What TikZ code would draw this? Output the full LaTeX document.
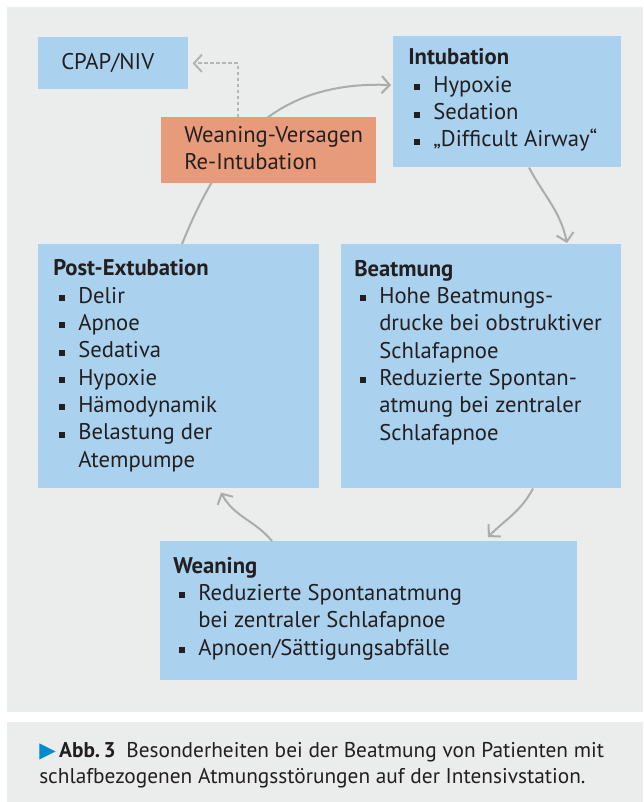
\documentclass[tikz,border=0pt]{standalone}
\usepackage{fontspec}
\setmainfont{PT Sans}
\newfontfamily\symfont{DejaVu Sans}
\usetikzlibrary{arrows.meta,calc}
\definecolor{panelgray}{RGB}{235,236,236}
\definecolor{boxblue}{RGB}{170,210,239}
\definecolor{boxorange}{RGB}{232,155,122}
\definecolor{arrowgray}{RGB}{172,172,172}
\definecolor{dotgray}{RGB}{180,180,180}
\definecolor{inkdark}{RGB}{35,31,32}
\definecolor{capblue}{RGB}{0,139,208}
% square bullet and the indent of a continued line
\newcommand{\itembul}{\hspace*{4pt}\makebox[14.75pt][l]{\rule[1.6pt]{4.5pt}{4.5pt}}}
\newcommand{\contline}{\hspace*{18.75pt}}
\begin{document}
\begin{tikzpicture}[x=0.75pt,y=0.75pt,
    bluebox/.style={fill=boxblue,anchor=north west,inner sep=0pt},
    orangebox/.style={fill=boxorange,anchor=north west,inner sep=0pt},
    txt/.style={anchor=base west,align=left,inner sep=0pt,text=inkdark,
      font=\fontsize{17}{20.5}\selectfont},
    cycarrow/.style={draw=arrowgray,line width=1.5pt,
      -{Straight Barb[length=6pt,width=13pt,line width=1.5pt]}},
    fallback/.style={cycarrow,draw=dotgray,dash pattern=on 2.5pt off 2pt}]
  \useasboundingbox (0,0) rectangle (643,-802);
  \fill[white] (0,0) rectangle (643,-802);
  \fill[panelgray] (7,-7) rectangle (643,-712);
  \fill[panelgray] (7,-722) rectangle (643,-802);

  % boxes
  \node[bluebox,minimum width=112.5pt,minimum height=39pt] (cpap) at (38,-37) {};
  \node[bluebox,minimum width=171pt,minimum height=98.25pt] (intub) at (393,-36) {};
  \node[bluebox,minimum width=210.75pt,minimum height=183pt] (post) at (38,-244) {};
  \node[bluebox,minimum width=210pt,minimum height=183pt] (beat) at (341,-244) {};
  \node[bluebox,minimum width=312.75pt,minimum height=104.25pt] (wean) at (160,-541) {};

  % cycle
  \draw[cycarrow] ($(post.north west)+(144,0)$) to[out=68,in=178,looseness=1.1]
    ($(intub.north west)+(-2,-49)$);
  \draw[cycarrow] ($(intub.south west)+(136,0)$) to[out=-62,in=102]
    ($(beat.north west)+(226,1)$);
  \draw[cycarrow] ($(beat.south west)+(192,0)$) to[out=-118,in=45]
    ($(wean.north west)+(328,4)$);
  \draw[cycarrow] ($(wean.north west)+(112,0)$) to[out=130,in=-62]
    ($(post.south west)+(183,-4)$);

  \node[orangebox,minimum width=161.25pt,minimum height=49.5pt] (fail) at (161,-117) {};
  \draw[fallback] ($(fail.north west)+(77,0)$) |- ($(cpap.east)+(4,0)$);

  % texts (placed by the baseline of their last line)
  \node[txt] (cpaptxt) at ($(cpap.north west)+(23,-33)$) {CPAP/NIV};
  \node[txt] (intubtxt) at ($(intub.north west)+(15,-111)$) {\textbf{Intubation}\\
    \itembul Hypoxie\\
    \itembul Sedation\\
    \itembul „Difficult Airway“};
  \node[txt] (failtxt) at ($(fail.north west)+(23,-53)$) {Weaning-Versagen\\Re-Intubation};
  \node[txt] (posttxt) at ($(post.north west)+(15,-223)$) {\textbf{Post-Extubation}\\
    \itembul Delir\\
    \itembul Apnoe\\
    \itembul Sedativa\\
    \itembul Hypoxie\\
    \itembul Hämodynamik\\
    \itembul Belastung der\\
    \contline Atempumpe};
  \node[txt] (beattxt) at ($(beat.north west)+(13,-196)$) {\textbf{Beatmung}\\
    \itembul Hohe Beatmungs-\\
    \contline drucke bei obstruktiver\\
    \contline Schlafapnoe\\
    \itembul Reduzierte Spontan-\\
    \contline atmung bei zentraler\\
    \contline Schlafapnoe};
  \node[txt] (weantxt) at ($(wean.north west)+(13,-114)$) {\textbf{Weaning}\\
    \itembul Reduzierte Spontanatmung\\
    \contline bei zentraler Schlafapnoe\\
    \itembul Apnoen/Sättigungsabfälle};

  % caption
  \node[txt,font=\fontsize{16}{19.5}\selectfont] (caption) at (39,-783)
    {{\symfont\color{capblue}▶}\,\textbf{Abb.\,3}\enspace Besonderheiten bei der Beatmung von Patienten mit\\
    schlafbezogenen Atmungsstörungen auf der Intensivstation.};
\end{tikzpicture}
\end{document}
